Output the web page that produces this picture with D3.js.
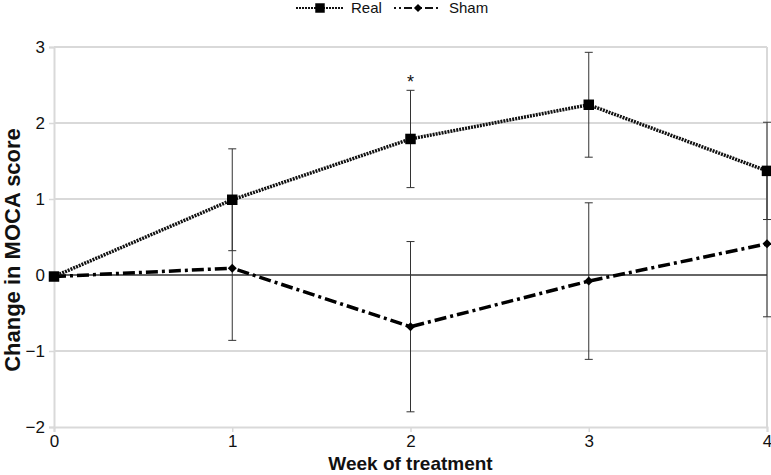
<!DOCTYPE html>
<html><head><meta charset="utf-8">
<script src="https://cdn.jsdelivr.net/npm/d3@7"></script>
<style>body{margin:0;background:#fff}svg{display:block}</style>
</head><body>
<svg id="c" width="771" height="475"></svg>
<script>
const weeks = [0, 1, 2, 3, 4];
const realMean = [-0.02, 0.99, 1.79, 2.24, 1.37];
const realErr  = [0, 0.67, 0.64, 0.69, 0.64];
const shamMean = [-0.02, 0.09, -0.68, -0.08, 0.41];
const shamErr  = [0, 0.95, 1.12, 1.03, 0.96];
const yTicks = [-2, -1, 0, 1, 2, 3];
const xTicks = [0, 1, 2, 3, 4];
const sigWeeks = [2];

const svg = d3.select("#c");
const x = d3.scaleLinear().domain([0, 4]).range([54, 767]);
const y = d3.scaleLinear().domain([-2, 3]).range([427, 47]);
const FONT = "Liberation Sans, Arial, sans-serif";

// gridlines
svg.append("g").selectAll("line").data(yTicks.filter(d => d !== 0 && d !== -2)).join("line")
  .attr("x1", x(0)).attr("x2", x(4)).attr("y1", d => y(d)).attr("y2", d => y(d))
  .attr("stroke", "#d9d9d9").attr("stroke-width", 2);
// right border
svg.append("line").attr("x1", x(4)).attr("x2", x(4)).attr("y1", y(3)).attr("y2", y(-2))
  .attr("stroke", "#d9d9d9").attr("stroke-width", 2);

// y axis
const yAxis = svg.append("g").attr("transform", `translate(${x(0)},0)`)
  .call(d3.axisLeft(y).tickValues(yTicks).tickSize(5).tickPadding(4).tickFormat(d => d < 0 ? "\u2212" + Math.abs(d) : d));
yAxis.select(".domain").attr("stroke", "#d9d9d9").attr("stroke-width", 2);
yAxis.selectAll(".tick line").attr("stroke", "#d9d9d9").attr("stroke-width", 1.5);
yAxis.selectAll("text").attr("font-family", FONT).attr("font-size", 17).attr("fill", "#111");

// x axis
const xAxis = svg.append("g").attr("transform", `translate(0,${y(-2)})`)
  .call(d3.axisBottom(x).tickValues(xTicks).tickSize(5).tickPadding(3).tickFormat(d3.format("d")));
xAxis.select(".domain").attr("stroke", "#d9d9d9").attr("stroke-width", 2);
xAxis.selectAll(".tick line").attr("stroke", "#d9d9d9").attr("stroke-width", 1.5);
xAxis.selectAll("text").attr("font-family", FONT).attr("font-size", 17).attr("fill", "#111");

// zero line
svg.append("line").attr("x1", x(0)).attr("x2", x(4)).attr("y1", y(0)).attr("y2", y(0))
  .attr("stroke", "#333").attr("stroke-width", 1.5);

// error bars
function errBars(mean, err) {
  const g = svg.append("g").attr("stroke", "#333").attr("stroke-width", 1);
  weeks.forEach((w, i) => {
    if (!err[i]) return;
    const t = y(mean[i] + err[i]), b = y(mean[i] - err[i]), cx = x(w);
    g.append("line").attr("x1", cx).attr("x2", cx).attr("y1", t).attr("y2", b);
    g.append("line").attr("x1", cx - 4).attr("x2", cx + 4).attr("y1", t).attr("y2", t);
    g.append("line").attr("x1", cx - 4).attr("x2", cx + 4).attr("y1", b).attr("y2", b);
  });
}
errBars(realMean, realErr);
errBars(shamMean, shamErr);

const line = d3.line().x((d, i) => x(weeks[i])).y(d => y(d));
const realDash = "2,1", shamDash = "12,4,3,4";
svg.append("path").datum(shamMean).attr("d", line).attr("fill", "none")
  .attr("stroke", "#000").attr("stroke-width", 3.5).attr("stroke-dasharray", shamDash);
svg.append("path").datum(realMean).attr("d", line).attr("fill", "none")
  .attr("stroke", "#111").attr("stroke-width", 3.5).attr("stroke-dasharray", realDash);

svg.append("g").selectAll("path").data(realMean).join("path")
  .attr("transform", (d, i) => `translate(${x(weeks[i])},${y(d)})`)
  .attr("d", d3.symbol().type(d3.symbolSquare).size(110)()).attr("fill", "#000");
svg.append("g").selectAll("path").data(shamMean).join("path")
  .attr("transform", (d, i) => `translate(${x(weeks[i])},${y(d)}) rotate(45)`)
  .attr("d", d3.symbol().type(d3.symbolSquare).size(40)()).attr("fill", "#000");

// significance
svg.append("g").selectAll("text").data(sigWeeks).join("text")
  .attr("x", d => x(d)).attr("y", d => y(realMean[weeks.indexOf(d)] + realErr[weeks.indexOf(d)]) - 2)
  .attr("text-anchor", "middle").attr("font-family", FONT)
  .attr("font-size", 18).attr("fill", "#111").text("*");

// axis titles
svg.append("text").attr("transform", `translate(20,250) rotate(-90)`)
  .attr("text-anchor", "middle").attr("font-family", FONT)
  .attr("font-weight", "bold").attr("font-size", 22).attr("fill", "#111").text("Change in MOCA score");
svg.append("text").attr("x", x(2)).attr("y", 470)
  .attr("text-anchor", "middle").attr("font-family", FONT)
  .attr("font-weight", "bold").attr("font-size", 19).attr("fill", "#111").text("Week of treatment");

// legend
const leg = svg.append("g").attr("font-family", FONT).attr("font-size", 15).attr("fill", "#111");
const items = [
  {name: "Real", x0: 296, dash: "2,1", size: 90, rot: 0},
  {name: "Sham", x0: 394, dash: "2,3,2,3,8,3", size: 34, rot: 45}
];
items.forEach(it => {
  leg.append("line").attr("x1", it.x0).attr("x2", it.x0 + 47).attr("y1", 8).attr("y2", 8)
    .attr("stroke", "#111").attr("stroke-width", 2).attr("stroke-dasharray", it.dash);
  leg.append("path").attr("transform", `translate(${it.x0 + 24},8) rotate(${it.rot})`)
    .attr("d", d3.symbol().type(d3.symbolSquare).size(it.size)()).attr("fill", "#000");
  leg.append("text").attr("x", it.x0 + 55).attr("y", 13).text(it.name);
});
</script>
</body></html>
